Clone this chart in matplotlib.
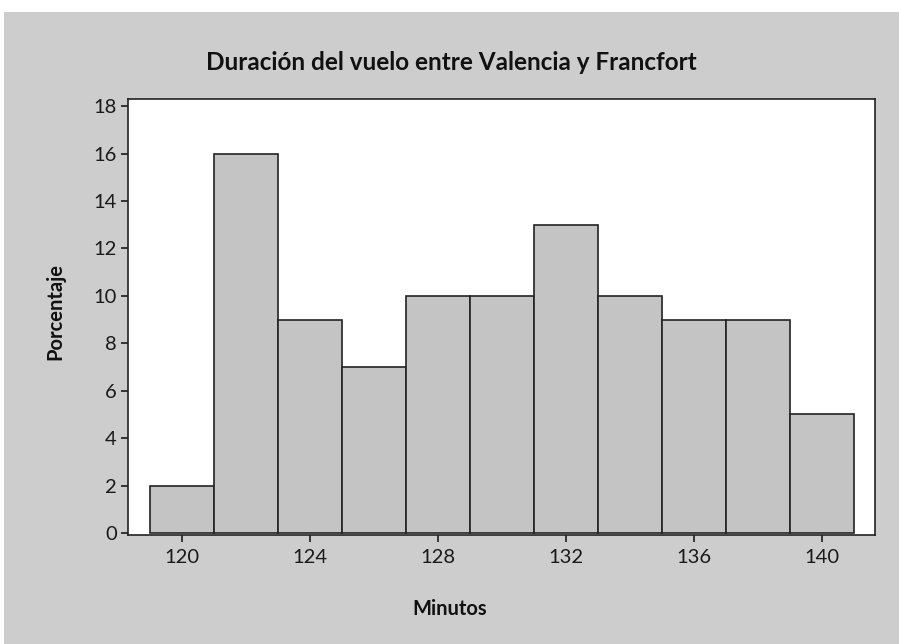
import matplotlib
matplotlib.use("Agg")
from matplotlib import pyplot as plt
from matplotlib.patches import Rectangle

# bin edges (minutes) and percentage per bin
bin_edges = [119, 121, 123, 125, 127, 129, 131, 133, 135, 137, 139, 141]
percentages = [2, 16, 9, 7, 10, 10, 13, 10, 9, 9, 5]
x_ticks = [120, 124, 128, 132, 136, 140]
y_ticks = [0, 2, 4, 6, 8, 10, 12, 14, 16, 18]

plt.rcParams['font.family'] = ['Lato', 'DejaVu Sans']

fig = plt.figure(figsize=(8.99, 6.44), dpi=100, facecolor='white')
fig.patches.append(Rectangle((4 / 899, 0), 1, (644 - 12) / 644,
                             transform=fig.transFigure, facecolor='#cdcdcd',
                             edgecolor='none', zorder=-1))

ax = fig.add_axes([0.1424, 0.1693, 0.8309, 0.677])
ax.set_facecolor('white')

lefts = bin_edges[:-1]
widths = [b - a for a, b in zip(bin_edges[:-1], bin_edges[1:])]
ax.bar(lefts, percentages, width=widths, align='edge',
       color='#c4c4c4', edgecolor='#222222', linewidth=1.2)

ax.set_xlim(118.3, 141.66)
ax.set_ylim(-0.08, 18.3)
ax.set_xticks(x_ticks)
ax.set_yticks(y_ticks)
ax.tick_params(axis='both', direction='out', length=5, width=1.2,
               labelsize=14.5, colors='#1a1a1a')
ax.tick_params(axis='x', pad=5)
ax.tick_params(axis='y', pad=3)
for s in ax.spines.values():
    s.set_linewidth(1.2)
    s.set_color('#222222')

fig.text(0.502, 1 - 62 / 644, 'Duración del vuelo entre Valencia y Francfort',
         fontsize=17.5, fontweight='bold', ha='center', va='center', color='#111111')
fig.text(0.5, 1 - 609 / 644, 'Minutos',
         fontsize=14.5, fontweight='bold', ha='center', va='center', color='#111111')
fig.text(55 / 899, 1 - 312 / 644, 'Porcentaje', rotation=90,
         fontsize=14.5, fontweight='bold', ha='center', va='center', color='#111111')

plt.savefig('out.png', dpi=100, facecolor=fig.get_facecolor())
